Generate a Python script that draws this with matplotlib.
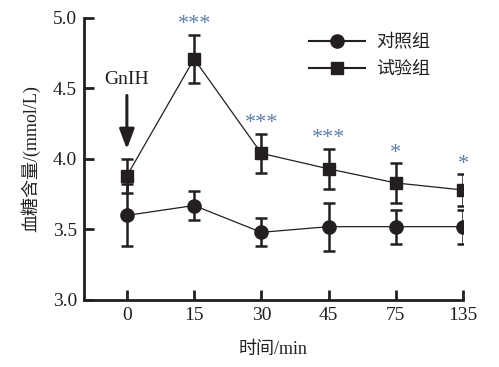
import matplotlib.pyplot as plt
from matplotlib.lines import Line2D

plt.rcParams['font.family'] = ['Liberation Serif', 'Noto Sans CJK SC']

times = ['0', '15', '30', '45', '75', '135']
control = [3.60, 3.67, 3.48, 3.52, 3.52, 3.52]
control_err = [0.22, 0.10, 0.10, 0.17, 0.12, 0.12]
treat = [3.88, 4.71, 4.04, 3.93, 3.83, 3.78]
treat_err = [0.12, 0.17, 0.14, 0.14, 0.14, 0.11]
marks = ['', '***', '***', '***', '*', '*']

ink = '#231f20'
star_col = '#5d7fa8'

fig = plt.figure(figsize=(4.99, 3.67), dpi=100)
ax = fig.add_axes([0.168, 0.1826, 0.760, 0.7684])

x = list(range(len(times)))
ax.errorbar(x, control, yerr=control_err, color=ink, lw=0.9, marker='o', ms=9.5,
            elinewidth=1.8, capsize=4, capthick=1.8)
ax.errorbar(x, treat, yerr=treat_err, color=ink, lw=0.9, marker='s', ms=8,
            elinewidth=1.8, capsize=4, capthick=1.8)

for xi, y, e, m in zip(x, treat, treat_err, marks):
    if m:
        ax.text(xi, y + e + 0.005, m, ha='center', va='bottom', fontsize=16,
                color=star_col)

ax.text(0, 4.50, 'GnIH', ha='center', va='bottom', fontsize=14, color=ink)
ax.annotate('', xy=(0, 4.05), xytext=(0, 4.47),
            arrowprops=dict(arrowstyle='-|>,head_width=0.45,head_length=1.2',
                            color=ink, lw=2.2))

ax.set_xlim(-0.64, 5)
ax.set_ylim(3.0, 5.0)
ax.set_xticks(x)
ax.set_xticklabels(times)
ax.set_yticks([3.0, 3.5, 4.0, 4.5, 5.0])
ax.set_yticklabels(['3.0', '3.5', '4.0', '4.5', '5.0'])
for s in ['top', 'right']:
    ax.spines[s].set_visible(False)
for s in ['left', 'bottom']:
    ax.spines[s].set_linewidth(2)
    ax.spines[s].set_color(ink)
ax.tick_params(direction='in', length=7, width=2, color=ink, labelsize=14,
               labelcolor=ink)
ax.tick_params(axis='y', pad=5)
ax.tick_params(axis='x', pad=5)

ax.set_xlabel('时间/min', fontsize=13, color=ink, labelpad=12)
ax.set_ylabel('血糖含量/(mmol/L)', fontsize=13, color=ink, labelpad=9)

handles = [Line2D([], [], color=ink, lw=1.5, marker='o', ms=9.5),
           Line2D([], [], color=ink, lw=1.5, marker='s', ms=8)]
leg = ax.legend(handles, ['对照组', '试验组'], loc='upper right',
                bbox_to_anchor=(0.955, 1.0), frameon=False, fontsize=13,
                handlelength=3.1, labelspacing=0.55, handletextpad=0.6)
for t in leg.get_texts():
    t.set_color(ink)

fig.savefig('out.png', dpi=100)
